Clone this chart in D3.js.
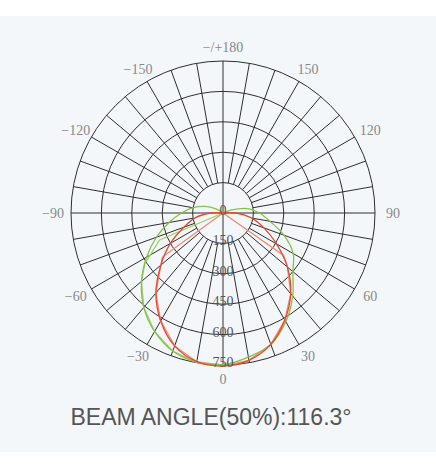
<!DOCTYPE html>
<html>
<head>
<meta charset="utf-8">
<script src="https://cdn.jsdelivr.net/npm/d3@7"></script>
<style>
  html, body { margin: 0; padding: 0; background: #fff; }
  svg { display: block; }
</style>
</head>
<body>
<svg id="chart" width="436" height="468"></svg>
<script>
// candela values (cd), angle 0 = straight down
const ringValues = [150, 300, 450, 600, 750];
const angleTicks = [0, 30, 60, 90, 120, 150, 180, -30, -60, -90, -120, -150];
const angleLabels = ["0", "30", "60", "90", "120", "150", "\u2212/+180",
  "\u221230", "\u221260", "\u221290", "\u2212120", "\u2212150"];

const greenAngles = [-130, -120, -110, -100, -90, -80, -70, -60, -50, -40, -30, -20, -10,
  0, 10, 20, 30, 40, 50, 60, 70, 80, 90, 100, 110, 120];
const greenValues = [0, 40, 95, 150, 205, 270, 350, 435, 525, 608, 675, 725, 748,
  748, 722, 690, 620, 535, 450, 400, 320, 235, 180, 125, 45, 0];

const redAngles = [-100, -90, -80, -70, -60, -50, -40, -30, -20, -10,
  0, 10, 20, 30, 40, 50, 60, 70, 80, 90, 100];
const redValues = [0, 60, 140, 205, 300, 400, 515, 615, 698, 745,
  755, 738, 690, 610, 520, 415, 305, 215, 145, 65, 0];

const paleRedAngles = [-54, -54, -50, -40, -30, -20, -10, 0, 10, 20, 30, 40, 50, 55, 55];
const paleRedValues = [0, 370, 400, 515, 615, 698, 745, 755, 738, 690, 610, 520, 415, 365, 0];

const paleGreenAngles = [-67, -67, -57, -50, -40, -30, -20, -10, 0];
const paleGreenValues = [0, 340, 460, 525, 608, 675, 725, 748, 748];

const cx = 223, cy = 213, R = 152;
const svg = d3.select("#chart");

svg.append("rect")
  .attr("x", 0).attr("y", 16)
  .attr("width", 436).attr("height", 436)
  .attr("fill", "#f4f7fa");

const r = d3.scaleLinear().domain([0, 750]).range([0, R]);
const rad = (deg) => deg * Math.PI / 180;
// 0 deg at the bottom, positive angles to the right
const px = (deg, v) => cx + r(v) * Math.sin(rad(deg));
const py = (deg, v) => cy + r(v) * Math.cos(rad(deg));

const grid = svg.append("g")
  .attr("stroke", "#2e2e2e")
  .attr("stroke-width", 1)
  .attr("fill", "none");

grid.selectAll("circle")
  .data(ringValues)
  .enter()
  .append("circle")
  .attr("cx", cx)
  .attr("cy", cy)
  .attr("r", (d) => r(d));

const spokes = d3.range(-170, 181, 10).filter((a) => a % 90 !== 0);
grid.selectAll("line.spoke")
  .data(spokes)
  .enter()
  .append("line")
  .attr("class", "spoke")
  .attr("x1", (d) => px(d, ringValues[0]))
  .attr("y1", (d) => py(d, ringValues[0]))
  .attr("x2", (d) => px(d, 750))
  .attr("y2", (d) => py(d, 750));

grid.selectAll("line.axis")
  .data([0, 90])
  .enter()
  .append("line")
  .attr("class", "axis")
  .attr("x1", (d) => px(d, 750))
  .attr("y1", (d) => py(d, 750))
  .attr("x2", (d) => px(d + 180, 750))
  .attr("y2", (d) => py(d + 180, 750));

const curve = (angles, values, c) => d3.lineRadial()
  .angle((d, i) => Math.PI - rad(angles[i]))
  .radius((d) => r(d))
  .curve(c)(values);

const plot = svg.append("g")
  .attr("transform", `translate(${cx},${cy})`)
  .attr("fill", "none")
  .attr("stroke-width", 1.3);

plot.append("path")
  .attr("d", curve(paleGreenAngles, paleGreenValues, d3.curveLinear))
  .attr("stroke", "#9fd06a");
plot.append("path")
  .attr("d", curve(paleRedAngles, paleRedValues, d3.curveLinear))
  .attr("stroke", "#f08a74");
plot.append("path")
  .attr("d", curve(greenAngles, greenValues, d3.curveCatmullRom.alpha(0.5)))
  .attr("stroke", "#86c24a");
plot.append("path")
  .attr("d", curve(redAngles, redValues, d3.curveCatmullRom.alpha(0.5)))
  .attr("stroke", "#e8492e");

svg.append("g")
  .attr("font-family", "'Liberation Serif', 'DejaVu Serif', serif")
  .attr("font-size", 14)
  .attr("fill", "#555")
  .attr("text-anchor", "middle")
  .selectAll("text")
  .data([0].concat(ringValues))
  .enter()
  .append("text")
  .attr("x", cx)
  .attr("y", (d) => cy + r(d) + 2)
  .text((d) => d);

svg.append("g")
  .attr("font-family", "'Liberation Serif', 'DejaVu Serif', serif")
  .attr("font-size", 14)
  .attr("fill", "#888")
  .attr("text-anchor", "middle")
  .attr("dominant-baseline", "central")
  .selectAll("text")
  .data(angleTicks)
  .enter()
  .append("text")
  .attr("x", (d) => cx + 170 * Math.sin(rad(d)))
  .attr("y", (d) => cy + 166 * Math.cos(rad(d)))
  .text((d, i) => angleLabels[i]);

svg.append("text")
  .attr("x", 211)
  .attr("y", 425)
  .attr("text-anchor", "middle")
  .attr("font-family", "'Liberation Sans', Arial, sans-serif")
  .attr("font-size", 23)
  .attr("fill", "#555")
  .text("BEAM ANGLE(50%):116.3\u00b0");
</script>
</body>
</html>
